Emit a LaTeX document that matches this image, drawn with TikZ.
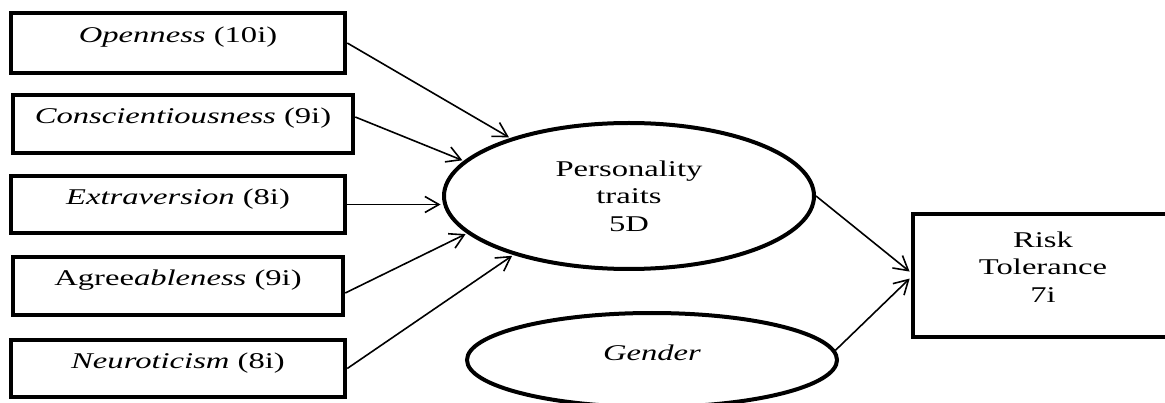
\documentclass[tikz,border=0pt]{standalone}
\usepackage{fontspec}
\setmainfont{Liberation Serif}[FakeStretch=1.45]
\usetikzlibrary{arrows.meta,shapes.geometric}
\begin{document}
\begin{tikzpicture}[x=1pt,y=-1pt,
  txt/.style={font=\fontsize{22.5}{27.5}\selectfont},
  traitbox/.style={draw, rectangle, line width=4.5pt, inner sep=0pt,
    text height=16pt, text depth=16pt, txt},
  oval/.style={draw, ellipse, line width=4pt, inner sep=0pt, txt},
  conn/.style={line width=1.6pt, shorten >=1.5pt,
    -{Straight Barb[length=14pt,width=16pt,line width=1.6pt]}}
]
\useasboundingbox (0,0) rectangle (1165,403);
\clip (0,0) rectangle (1165,403);
\fill[white] (0,0) rectangle (1165,403);

\node[traitbox, minimum width=334pt, minimum height=60pt] (open) at (178,43) {\textit{Openness} (10i)};
\node[traitbox, minimum width=340pt, minimum height=58pt] (cons) at (183,124) {\textit{Conscientiousness} (9i)};
\node[traitbox, minimum width=334pt, minimum height=57pt] (extra) at (178,204.5) {\textit{Extraversion} (8i)};
\node[traitbox, minimum width=330pt, minimum height=58pt] (agree) at (178,286) {Agree\textit{ableness} (9i)};
\node[traitbox, minimum width=334pt, minimum height=57pt] (neuro) at (178,368.5) {\textit{Neuroticism} (8i)};

\node[oval, align=center, minimum width=370pt, minimum height=146pt] (pers) at (629,196) {Personality\\traits\\5D};
\node[oval, minimum width=370pt, minimum height=94pt, text height=15pt, text depth=15pt] (gender) at (652,360) {\textit{Gender}};

\node[draw, rectangle, line width=4.5pt, minimum width=260pt, minimum height=123pt] (risk) at (1043,275.5) {};
\node[txt, align=center, inner sep=0pt] (risktxt) at (1043,267) {Risk\\Tolerance\\7i};

\draw[conn] (open.east) -- (pers.154);
\draw[conn] ([yshift=7pt]cons.east) -- (pers.168);
\draw[conn] (extra.east) -- (extra.east -| pers.west);
\draw[conn] ([yshift=-7pt]agree.east) -- (pers.193);
\draw[conn] (neuro.east) -- (pers.207);
\draw[conn] (pers.east) -- ([yshift=3pt]risk.west);
\draw[conn] (gender.3) -- ([yshift=-2pt]risk.west);
\end{tikzpicture}
\end{document}
